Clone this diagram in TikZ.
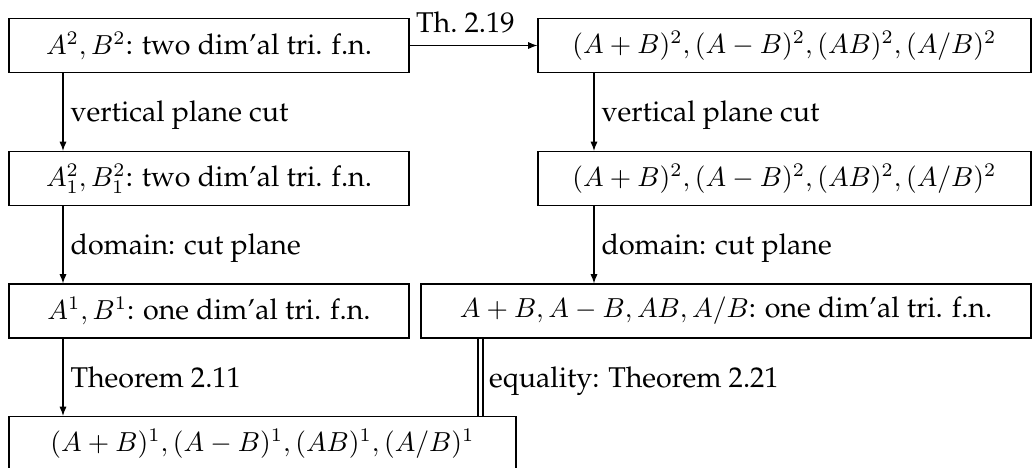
\documentclass[tikz,border=0pt]{standalone}
\usepackage[T1]{fontenc}
\usepackage{palatino}
\usetikzlibrary{arrows.meta,calc}
\tikzset{
  txt/.style={font=\fontsize{10.4}{12.5}\selectfont},
  box/.style={draw, line width=0.4pt, inner sep=0pt, minimum height=54*0.3636pt, txt},
  arr/.style={line width=0.4pt, -{Latex[length=3.4pt,width=2.6pt]}},
  lbl/.style={anchor=base west, inner sep=0pt, xshift=2.55pt, yshift=-3.55pt, txt},
  dbl/.style={line width=0.4pt, double, double distance=1.4pt}
}
\begin{document}
\begin{tikzpicture}[x=0.3636pt,y=-0.3636pt]
\useasboundingbox (0,0) rectangle (1032,467);
\clip (0,0) rectangle (1032,467);
\node[box, minimum width=400*0.3636pt] (b1) at (209,45.5) {$A^2,B^2$: two dim'al tri. f.n.};
\node[box, minimum width=493*0.3636pt] (b2) at (784.5,45.5) {$(A+B)^2,(A-B)^2,(AB)^2,(A/B)^2$};
\node[box, minimum width=400*0.3636pt] (b3) at (209,178.5) {$A_1^2,B_1^2$: two dim'al tri. f.n.};
\node[box, minimum width=493*0.3636pt] (b4) at (784.5,178.5) {$(A+B)^2,(A-B)^2,(AB)^2,(A/B)^2$};
\node[box, minimum width=400*0.3636pt] (b5) at (209,311) {$A^1,B^1$: one dim'al tri. f.n.};
\node[box, minimum width=610*0.3636pt] (b6) at (726,311) {$A+B,A-B,AB,A/B$: one dim'al tri. f.n.};
\node[box, minimum width=507*0.3636pt] (b7) at (262.5,443.5) {$(A+B)^1,(A-B)^1,(AB)^1,(A/B)^1$};
\coordinate (cL) at (63,0);
\coordinate (cR) at (594,0);
\coordinate (cD) at (480.5,0);
\draw[arr] (b1) -- node[pos=0, anchor=base west, inner sep=0pt, xshift=2.2pt, yshift=4.9pt, txt] {Th.~2.19} (b2);
\draw[arr] (b1.south -| cL) -- node[lbl] {vertical plane cut} (b3.north -| cL);
\draw[arr] (b3.south -| cL) -- node[lbl] {domain: cut plane} (b5.north -| cL);
\draw[arr] (b5.south -| cL) -- node[lbl] {Theorem 2.11} (b7.north -| cL);
\draw[arr] (b2.south -| cR) -- node[lbl] {vertical plane cut} (b4.north -| cR);
\draw[arr] (b4.south -| cR) -- node[lbl] {domain: cut plane} (b6.north -| cR);
\draw[dbl] (b6.south -| cD) -- node[lbl, xshift=0.4pt] {equality: Theorem 2.21} (b7.north -| cD);
\end{tikzpicture}
\end{document}
